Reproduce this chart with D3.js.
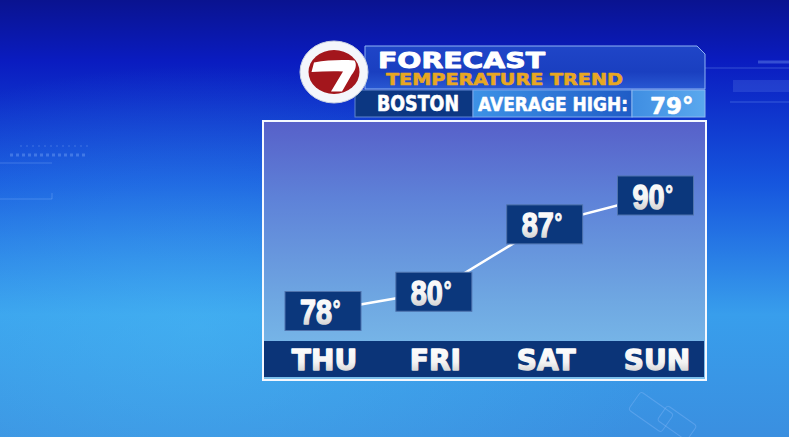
<!DOCTYPE html>
<html>
<head>
<meta charset="utf-8">
<script src="https://cdn.jsdelivr.net/npm/d3@7"></script>
<style>
  html, body { margin: 0; padding: 0; background: #0b1fb8; }
  svg { display: block; }
</style>
</head>
<body>
<div id="chart"></div>
<script>
// forecast values
const days = ['THU', 'FRI', 'SAT', 'SUN']
const highs = [78, 80, 87, 90]
const city = 'BOSTON'
const avgLabel = 'AVERAGE HIGH:'
const avgHigh = 79
const title = 'FORECAST'
const subtitle = 'TEMPERATURE TREND'

const width = 789
	, height = 437
	, panel = { x: 263, y: 121, w: 443, h: 259 }
	, dayBar = { y: 341, h: 36 }
	, boxW = 76
	, boxH = 39
	, squeeze = 0.8 // condensed look of the box numbers

const svg = d3.select('#chart').append('svg')
	.attr('width', width)
	.attr('height', height)

const defs = svg.append('defs')

function linGrad(id, stops, x2, y2) {
	const g = defs.append('linearGradient').attr('id', id)
		.attr('x1', 0).attr('y1', 0).attr('x2', x2 || 0).attr('y2', y2 === undefined ? 1 : y2)
	stops.forEach(s => g.append('stop').attr('offset', s[0]).attr('stop-color', s[1]))
	return g
}

linGrad('bg', [[0, '#0a1390'], [0.14, '#0a1cc0'], [0.42, '#1656de'], [0.72, '#389eec'], [1, '#3a8fe0']])
linGrad('panelFill', [[0, '#5760c9'], [0.3, '#5e82d8'], [0.7, '#6fa8e2'], [1, '#7cc0ec']])
linGrad('headFill', [[0, '#1f45c8'], [0.6, '#1a3fc0'], [1, '#2858d2']])
linGrad('avgFill', [[0, '#3d92e6'], [1, '#1f5cc6']], 1, 0)
linGrad('numFill', [[0, '#3f8ee2'], [1, '#5aa8ee']], 1, 0)
linGrad('txtFill', [[0, '#ffffff'], [0.55, '#f4f4f4'], [1, '#c2c2c2']])

const glow = defs.append('radialGradient').attr('id', 'glow')
	.attr('cx', 0.25).attr('cy', 0.75).attr('r', 0.6)
glow.append('stop').attr('offset', 0).attr('stop-color', '#4cc0f6').attr('stop-opacity', 0.45)
glow.append('stop').attr('offset', 1).attr('stop-color', '#4cc0f6').attr('stop-opacity', 0)

// background
svg.append('rect').attr('width', width).attr('height', height).attr('fill', 'url(#bg)')
svg.append('rect').attr('width', width).attr('height', height).attr('fill', 'url(#glow)')

// faint decorative strokes
const deco = svg.append('g').attr('stroke', '#9cc4ff').attr('fill', 'none').attr('stroke-opacity', 0.3)
deco.append('line').attr('x1', 0).attr('x2', 52).attr('y1', 163).attr('y2', 163)
deco.append('path').attr('d', 'M0,199H52V193')
deco.append('line').attr('x1', 20).attr('x2', 88).attr('y1', 146).attr('y2', 146).attr('stroke-dasharray', '2,4')
deco.append('line').attr('x1', 10).attr('x2', 85).attr('y1', 155).attr('y2', 155).attr('stroke-dasharray', '3,3').attr('stroke-width', 3)
deco.append('line').attr('x1', 700).attr('x2', 789).attr('y1', 68).attr('y2', 68)
deco.append('line').attr('x1', 758).attr('x2', 789).attr('y1', 62).attr('y2', 62).attr('stroke-width', 3)
deco.append('rect').attr('x', 733).attr('y', 80).attr('width', 60).attr('height', 12).attr('fill', '#9cc4ff').attr('fill-opacity', 0.15).attr('stroke', 'none')
deco.append('line').attr('x1', 730).attr('x2', 789).attr('y1', 102).attr('y2', 102)
deco.append('rect').attr('x', 640).attr('y', 392).attr('width', 22).attr('height', 40).attr('rx', 3).attr('transform', 'rotate(-55 651 412)')
deco.append('rect').attr('x', 668).attr('y', 405).attr('width', 18).attr('height', 36).attr('rx', 3).attr('transform', 'rotate(-55 677 423)')

// header
const head = svg.append('g')
head.append('path')
	.attr('d', 'M365,46H697L705,54V89H365Z')
	.attr('fill', 'url(#headFill)')
	.attr('stroke', '#8fb4f4').attr('stroke-width', 1)
head.append('rect').attr('x', 355).attr('y', 90).attr('width', 118).attr('height', 27)
	.attr('fill', '#0c3782').attr('stroke', '#5f86d0').attr('stroke-width', 1)
head.append('rect').attr('x', 473).attr('y', 90).attr('width', 159).attr('height', 27)
	.attr('fill', 'url(#avgFill)').attr('stroke', '#7aa8ec').attr('stroke-width', 1)
head.append('rect').attr('x', 632).attr('y', 90).attr('width', 73).attr('height', 27)
	.attr('fill', 'url(#numFill)').attr('stroke', '#8cb8f0').attr('stroke-width', 1)

function heavy(sel, color, w) {
	return sel.attr('font-family', 'DejaVu Sans').attr('font-weight', 'bold')
		.attr('fill', color).attr('stroke', color).attr('stroke-width', w)
		.attr('stroke-linejoin', 'round')
}

heavy(head.append('text'), '#fff', 0.9).attr('x', 378).attr('y', 67.5)
	.attr('font-size', 22)
	.attr('textLength', 167).attr('lengthAdjust', 'spacingAndGlyphs')
	.text(title)
heavy(head.append('text'), '#e8a722', 0.6).attr('x', 386).attr('y', 85)
	.attr('font-size', 16.5)
	.attr('textLength', 237).attr('lengthAdjust', 'spacingAndGlyphs')
	.text(subtitle)
heavy(head.append('text'), '#fff', 0.6).attr('x', 377).attr('y', 111)
	.attr('font-size', 20.5)
	.attr('textLength', 82).attr('lengthAdjust', 'spacingAndGlyphs')
	.text(city)
heavy(head.append('text'), '#fff', 0.6).attr('x', 478).attr('y', 111)
	.attr('font-size', 20)
	.attr('textLength', 150).attr('lengthAdjust', 'spacingAndGlyphs')
	.text(avgLabel)
heavy(head.append('text'), '#fff', 0.6).attr('x', 650).attr('y', 113.5)
	.attr('font-size', 23)
	.text(avgHigh + '°')

// 7 logo
const logo = svg.append('g').attr('transform', 'translate(334,72)')
logo.append('ellipse').attr('rx', 34).attr('ry', 31).attr('fill', '#f4f6fb')
	.attr('stroke', '#c8d0e0').attr('stroke-width', 1)
logo.append('ellipse').attr('rx', 25.5).attr('ry', 22).attr('fill', '#a3161c')
logo.append('path')
	.attr('d', 'M-20,-9.5 C-6,-12 8,-12.5 20.5,-11.5 C23,-8 22,-2 17.5,3 L8,19.5 L-3,19.5 L9,-0.5 C-2,-1 -12,-0.5 -22.5,0 Z')
	.attr('fill', '#fff')

// chart panel
const chart = svg.append('g')
chart.append('rect')
	.attr('x', panel.x).attr('y', panel.y).attr('width', panel.w).attr('height', panel.h)
	.attr('fill', 'url(#panelFill)').attr('stroke', '#f4f8ff').attr('stroke-width', 2)
chart.append('rect')
	.attr('x', panel.x + 1).attr('y', dayBar.y).attr('width', panel.w - 3).attr('height', dayBar.h)
	.attr('fill', '#0b3478')

const x = d3.scalePoint()
	.domain(days)
	.range([323, 655.5])

const y = d3.scaleLinear()
	.domain([78, 90])
	.range([311, 195.5])

const pts = days.map((d, i) => ({ day: d, t: highs[i] }))

chart.append('path')
	.datum(pts)
	.attr('d', d3.line().x(d => x(d.day)).y(d => y(d.t)))
	.attr('fill', 'none')
	.attr('stroke', '#fff')
	.attr('stroke-width', 2.5)

const box = chart.selectAll('.box')
	.data(pts)
	.join('g')
	  .attr('class', 'box')
	  .attr('transform', d => 'translate(' + x(d.day) + ',' + y(d.t) + ')')

box.append('rect')
	.attr('x', -boxW / 2).attr('y', -boxH / 2)
	.attr('width', boxW).attr('height', boxH)
	.attr('fill', '#0b377c')
	.attr('stroke', '#4f73ad').attr('stroke-width', 1)

// number and degree sign in one text, squeezed horizontally
const num = box.append('g').attr('transform', 'scale(' + squeeze + ',1)')
	.append('text')
	.attr('x', -23 / squeeze).attr('y', 13)
	.attr('font-family', 'Liberation Sans, Arial, sans-serif').attr('font-weight', 'bold')
	.attr('font-size', 36)
	.attr('fill', 'url(#txtFill)')
	.attr('stroke', 'url(#txtFill)').attr('stroke-width', 1.5)
	.attr('stroke-linejoin', 'round')
num.append('tspan').text(d => d.t)
num.append('tspan').attr('font-size', 24).attr('dy', -7).attr('dx', 1).attr('stroke-width', 0.8).text('°')

// day labels
chart.selectAll('.day')
	.data(days)
	.join('text')
	  .attr('class', 'day')
	  .attr('x', d => x(d) + 1.5)
	  .attr('y', 370)
	  .attr('text-anchor', 'middle')
	  .attr('font-family', 'DejaVu Sans').attr('font-weight', 'bold')
	  .attr('font-size', 28)
	  .attr('fill', 'url(#txtFill)')
	  .attr('stroke', 'url(#txtFill)').attr('stroke-width', 1.3)
	  .attr('stroke-linejoin', 'round')
	  .text(d => d)
</script>
